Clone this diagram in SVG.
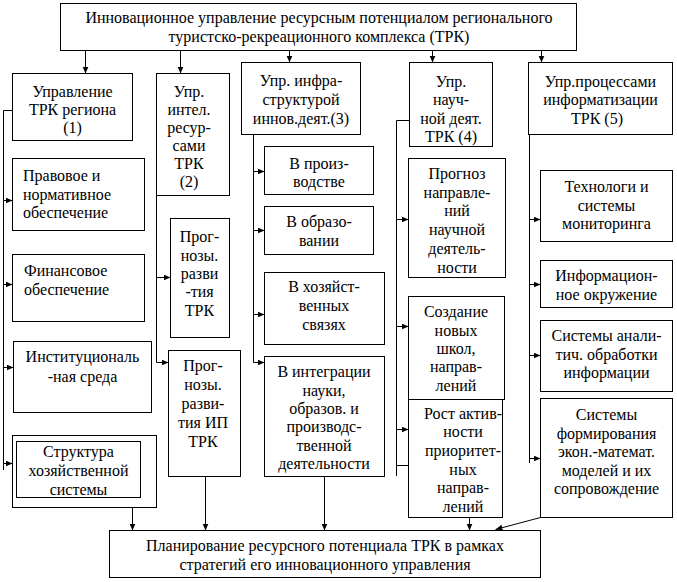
<svg xmlns="http://www.w3.org/2000/svg" width="677" height="582" viewBox="0 0 677 582">
<style>
rect{fill:#fff;stroke:#000;stroke-width:1}
text{font-family:"Liberation Serif","Times New Roman",serif;font-size:16px;fill:#000;text-anchor:middle}
text.l{text-anchor:start}
.c line,.c polyline{stroke:#000;stroke-width:1;fill:none}
.a{marker-end:url(#ah)}
</style>
<defs>
<marker id="ah" markerUnits="userSpaceOnUse" markerWidth="8" markerHeight="7" refX="7" refY="3" orient="auto">
<path d="M0,0 L7,3 L0,6 z" fill="#000"/>
</marker>
</defs>
<rect x="0" y="0" width="677" height="582" style="stroke:none"/>
<g class="c" id="connectors">
<line class="a" x1="85.5" y1="50.5" x2="85.5" y2="73.5"/>
<line class="a" x1="180.5" y1="50.5" x2="180.5" y2="73.5"/>
<line class="a" x1="289.5" y1="50.5" x2="289.5" y2="62.5"/>
<line class="a" x1="432.5" y1="50.5" x2="432.5" y2="62.5"/>
<line class="a" x1="541.5" y1="50.5" x2="541.5" y2="62.5"/>
<polyline points="12.5,110.5 3.5,110.5 3.5,470"/>
<line class="a" x1="3.5" y1="200.5" x2="12.5" y2="200.5"/>
<line class="a" x1="3.5" y1="284.5" x2="12.5" y2="284.5"/>
<line class="a" x1="3.5" y1="367.5" x2="13.5" y2="367.5"/>
<line class="a" x1="3.5" y1="463.5" x2="12.5" y2="463.5"/>
<line x1="156.5" y1="195.5" x2="156.5" y2="362.5"/>
<line class="a" x1="156.5" y1="277.5" x2="170.5" y2="277.5"/>
<line class="a" x1="156.5" y1="362.5" x2="168.5" y2="362.5"/>
<line x1="253.5" y1="134.5" x2="253.5" y2="362.5"/>
<line class="a" x1="253.5" y1="171.5" x2="264.5" y2="171.5"/>
<line class="a" x1="253.5" y1="230.5" x2="264.5" y2="230.5"/>
<line class="a" x1="253.5" y1="314.5" x2="264.5" y2="314.5"/>
<line class="a" x1="253.5" y1="362.5" x2="264.5" y2="362.5"/>
<polyline points="409.5,120.5 396.5,120.5 396.5,476"/>
<line class="a" x1="396.5" y1="219.5" x2="408.5" y2="219.5"/>
<line class="a" x1="396.5" y1="326.5" x2="408.5" y2="326.5"/>
<line class="a" x1="396.5" y1="429.5" x2="408.5" y2="429.5"/>
<line x1="396.5" y1="465.5" x2="408.5" y2="465.5"/>
<line x1="529.5" y1="134.5" x2="529.5" y2="463"/>
<line class="a" x1="529.5" y1="219.5" x2="540.5" y2="219.5"/>
<line class="a" x1="529.5" y1="284.5" x2="540.5" y2="284.5"/>
<line class="a" x1="529.5" y1="355.5" x2="540.5" y2="355.5"/>
<line class="a" x1="529.5" y1="458.5" x2="540.5" y2="458.5"/>
<line class="a" x1="132.5" y1="507.5" x2="132.5" y2="530.5"/>
<line class="a" x1="205.5" y1="476.5" x2="205.5" y2="530.5"/>
<line class="a" x1="324.5" y1="476.5" x2="324.5" y2="530.5"/>
<line class="a" x1="469.5" y1="517.5" x2="469.5" y2="530.5"/>
<line class="a" x1="540.5" y1="517.5" x2="495.5" y2="529.5"/>
</g>
<g id="top">
<rect x="60.5" y="3.5" width="516" height="47"/>
<text x="319" y="23">Инновационное управление ресурсным потенциалом регионального</text>
<text x="319" y="42">туристско-рекреационного комплекса (ТРК)</text>
</g>
<g id="n1">
<rect x="12.5" y="73.5" width="120" height="67"/>
<text x="72.5" y="97">Управление</text>
<text x="72.5" y="115">ТРК региона</text>
<text x="72.5" y="133">(1)</text>
</g>
<g id="n2">
<rect x="156.5" y="73.5" width="73" height="122"/>
<text x="189" y="97">Упр.</text>
<text x="189" y="115">интел.</text>
<text x="189" y="133">ресур-</text>
<text x="189" y="151">сами</text>
<text x="189" y="169">ТРК</text>
<text x="189" y="187">(2)</text>
</g>
<g id="n3">
<rect x="241.5" y="62.5" width="119" height="72"/>
<text x="301" y="86">Упр. инфра-</text>
<text x="301" y="105">структурой</text>
<text x="301" y="124">иннов.деят.(3)</text>
</g>
<g id="n4">
<rect x="409.5" y="62.5" width="83" height="84"/>
<text x="451" y="87">Упр.</text>
<text x="451" y="105">науч-</text>
<text x="451" y="123.5">ной деят.</text>
<text x="451" y="142">ТРК (4)</text>
</g>
<g id="n5">
<rect x="528.5" y="62.5" width="144" height="72"/>
<text x="600.5" y="87">Упр.процессами</text>
<text x="600.5" y="105">информатизации</text>
<text x="597" y="123.5">ТРК (5)</text>
</g>
<g id="n1a">
<rect x="12.5" y="158.5" width="132" height="72"/>
<text class="l" x="23" y="181">Правовое и</text>
<text class="l" x="23" y="199.5">нормативное</text>
<text class="l" x="23" y="218">обеспечение</text>
</g>
<g id="n1b">
<rect x="12.5" y="254.5" width="132" height="67"/>
<text class="l" x="24" y="276">Финансовое</text>
<text class="l" x="24" y="294.5">обеспечение</text>
</g>
<g id="n1c">
<rect x="13.5" y="341.5" width="138" height="71"/>
<text x="82.5" y="362">Институциональ</text>
<text x="82.5" y="382">-ная среда</text>
</g>
<g id="n1d">
<rect x="12.5" y="435.5" width="144" height="72"/>
<rect x="16.5" y="441.5" width="124" height="56"/>
<text x="78.5" y="457">Структура</text>
<text x="78.5" y="476">хозяйственной</text>
<text x="78.5" y="495">системы</text>
</g>
<g id="n2a">
<rect x="170.5" y="218.5" width="59" height="119"/>
<text x="199.5" y="242">Прог-</text>
<text x="199.5" y="261">нозы.</text>
<text x="199.5" y="279">разви</text>
<text x="199.5" y="297">-тия</text>
<text x="199.5" y="316">ТРК</text>
</g>
<g id="n2b">
<rect x="168.5" y="350.5" width="72" height="126"/>
<text x="203" y="371">Прог-</text>
<text x="203" y="390">нозы.</text>
<text x="203" y="409">разви-</text>
<text x="203" y="428">тия ИП</text>
<text x="203" y="447">ТРК</text>
</g>
<g id="n3a">
<rect x="264.5" y="146.5" width="109" height="48"/>
<text x="319" y="169">В произ-</text>
<text x="319" y="187">водстве</text>
</g>
<g id="n3b">
<rect x="264.5" y="206.5" width="109" height="48"/>
<text x="319" y="227">В образо-</text>
<text x="319" y="245.5">вании</text>
</g>
<g id="n3c">
<rect x="264.5" y="272.5" width="120" height="72"/>
<text x="324" y="292">В хозяйст-</text>
<text x="324" y="311">венных</text>
<text x="324" y="330">связях</text>
</g>
<g id="n3d">
<rect x="264.5" y="356.5" width="120" height="120"/>
<text x="324" y="377">В интеграции</text>
<text x="324" y="395.5">науки,</text>
<text x="324" y="414">образов. и</text>
<text x="324" y="432">производс-</text>
<text x="324" y="450.5">твенной</text>
<text x="324" y="469">деятельности</text>
</g>
<g id="n4a">
<rect x="408.5" y="158.5" width="97" height="119"/>
<text x="457" y="178.5">Прогноз</text>
<text x="457" y="197.5">направле-</text>
<text x="457" y="216">ний</text>
<text x="457" y="235">научной</text>
<text x="457" y="254">деятель-</text>
<text x="457" y="272.5">ности</text>
</g>
<g id="n4b">
<rect x="408.5" y="296.5" width="96" height="103"/>
<text x="456" y="317">Создание</text>
<text x="456" y="335.5">новых</text>
<text x="456" y="354">школ,</text>
<text x="456" y="372">направ-</text>
<text x="456" y="390.5">лений</text>
</g>
<g id="n4c">
<rect x="408.5" y="399.5" width="94" height="118"/>
<text x="463" y="418.5">Рост актив-</text>
<text x="463" y="437">ности</text>
<text x="463" y="456">приоритет-</text>
<text x="463" y="474.5">ных</text>
<text x="463" y="493">направ-</text>
<text x="463" y="512">лений</text>
</g>
<g id="n5a">
<rect x="540.5" y="170.5" width="132" height="71"/>
<text x="606.5" y="192">Технологи и</text>
<text x="606.5" y="210.5">системы</text>
<text x="606.5" y="229">мониторинга</text>
</g>
<g id="n5b">
<rect x="540.5" y="260.5" width="132" height="47"/>
<text x="606.5" y="281">Информацион-</text>
<text x="606.5" y="299.5">ное окружение</text>
</g>
<g id="n5c">
<rect x="540.5" y="320.5" width="132" height="71"/>
<text x="606.5" y="341">Системы анали-</text>
<text x="606.5" y="359.5">тич. обработки</text>
<text x="606.5" y="378">информации</text>
</g>
<g id="n5d">
<rect x="540.5" y="398.5" width="132" height="119"/>
<text x="606.5" y="420">Системы</text>
<text x="606.5" y="438.5">формирования</text>
<text x="606.5" y="457">экон.-математ.</text>
<text x="606.5" y="475.5">моделей и их</text>
<text x="606.5" y="494">сопровождение</text>
</g>
<g id="bottom">
<rect x="109.5" y="530.5" width="431" height="47"/>
<text x="325" y="551">Планирование ресурсного потенциала ТРК в рамках</text>
<text x="325" y="569.5">стратегий его инновационного управления</text>
</g>
</svg>
